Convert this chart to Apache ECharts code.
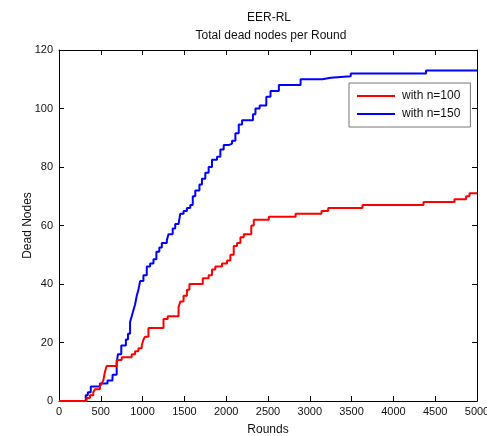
<!DOCTYPE html>
<html>
<head>
<meta charset="utf-8">
<script src="https://cdn.jsdelivr.net/npm/echarts@6/dist/echarts.min.js"></script>
<style>
html,body{margin:0;padding:0;background:#fff;}
#chart{width:487px;height:436px;}
</style>
</head>
<body>
<div id="chart"></div>
<script>
const titleMain = 'EER-RL';
const titleSub = 'Total dead nodes per Round';
const xName = 'Rounds';
const yName = 'Dead Nodes';
const seriesNames = ['with n=100', 'with n=150'];

const redRounds = [0,330,370,410,430,490,510,530,550,570,690,750,870,910,950,990,1010,1030,1070,1250,1300,1430,1450,1490,1530,1560,1720,1790,1830,1870,1950,2010,2050,2090,2130,2170,2210,2300,2330,2510,2830,3140,3220,3630,4360,4730,4870,4910,5000];
const redDead   = [0,1,2,3,4,5,6,7,10,12,14,15,16,17,18,19,21,22,25,28,29,32,34,36,38,40,42,43,45,46,47,48,50,53,54,56,57,60,62,63,64,65,66,67,68,69,70,71,71];

const blueRounds = [0,320,345,380,490,580,640,690,705,745,800,825,850,870,890,910,930,950,970,1010,1050,1090,1130,1165,1200,1230,1290,1310,1360,1390,1430,1450,1490,1530,1570,1600,1630,1680,1710,1750,1790,1830,1890,1930,1970,2030,2070,2110,2150,2190,2320,2350,2400,2480,2530,2630,2890,3150,3250,3490,4390,5000];
const blueDead   = [0,2,3,5,6,7,9,13,16,19,21,23,27,29,31,33,36,38,41,43,46,47,48.5,51,52.5,54,55,57,59,60.5,61,64,65,66,67,70,72,74,76,78,80,82.5,83.5,86,87.5,88,89,91.5,94.5,96,98,100,101,104,106,108,110,110.5,111,112,113,113];

const xTicks = {min: 0, max: 5000, interval: 500};
const yTicks = {min: 0, max: 120, interval: 20};

function pairs(xs, ys){ return xs.map((x,i)=>[x, ys[i]]); }

const chart = echarts.init(document.getElementById('chart'), null, {renderer:'canvas'});
const font = 'Liberation Sans, Arial, sans-serif';
const axisCommon = {
  type: 'value',
  axisLine: {show: true, onZero: false, lineStyle: {color: '#000', width: 1}},
  axisTick: {show: true, inside: true, length: 5, lineStyle: {color: '#000'}},
  splitLine: {show: false}
};
chart.setOption({
  animation: false,
  backgroundColor: '#fff',
  title: [
    {text: titleMain, left: 264, top: 7, textAlign: 'center', textStyle: {fontFamily: font, fontSize: 12, fontWeight: 'normal', color: '#111'}},
    {text: titleSub, left: 266, top: 25, textAlign: 'center', textStyle: {fontFamily: font, fontSize: 12, fontWeight: 'normal', color: '#111'}}
  ],
  grid: {left: 59, right: 10, top: 50, bottom: 35, containLabel: false, outerBoundsMode: 'none'},
  legend: {
    orient: 'vertical', left: 349, top: 83,
    padding: [7, 10, 7, 8], itemGap: 6,
    itemWidth: 38, itemHeight: 2, icon: 'rect',
    backgroundColor: '#fff', borderColor: '#777', borderWidth: 1,
    textStyle: {fontFamily: font, fontSize: 12, color: '#111', padding: [0,0,0,2]},
    data: seriesNames
  },
  xAxis: [
    Object.assign({}, axisCommon, {position: 'bottom', min: xTicks.min, max: xTicks.max, interval: xTicks.interval,
      name: xName, nameLocation: 'middle', nameGap: 23, nameMoveOverlap: false,
      nameTextStyle: {fontFamily: font, fontSize: 12, color: '#111'},
      axisLabel: {margin: 5, fontFamily: font, fontSize: 11, color: '#111', formatter: v => String(v), hideOverlap: false}}),
    Object.assign({}, axisCommon, {position: 'top', min: xTicks.min, max: xTicks.max, interval: xTicks.interval,
      axisLabel: {show: false}})
  ],
  yAxis: [
    Object.assign({}, axisCommon, {position: 'left', min: yTicks.min, max: yTicks.max, interval: yTicks.interval,
      name: yName, nameLocation: 'middle', nameGap: 25, nameMoveOverlap: false,
      nameTextStyle: {fontFamily: font, fontSize: 12, color: '#111'},
      axisLabel: {margin: 6, fontFamily: font, fontSize: 11, color: '#111', formatter: v => String(v)}}),
    Object.assign({}, axisCommon, {position: 'right', min: yTicks.min, max: yTicks.max, interval: yTicks.interval,
      axisLabel: {show: false}})
  ],
  series: [
    {name: seriesNames[0], type: 'line', step: 'end', showSymbol: false, symbol: 'none',
     data: pairs(redRounds, redDead), lineStyle: {color: '#ff0000', width: 2}, itemStyle: {color: '#ff0000'}, z: 3},
    {name: seriesNames[1], type: 'line', step: 'end', showSymbol: false, symbol: 'none',
     data: pairs(blueRounds, blueDead), lineStyle: {color: '#0000ff', width: 2}, itemStyle: {color: '#0000ff'}, z: 2}
  ]
});
</script>
</body>
</html>
